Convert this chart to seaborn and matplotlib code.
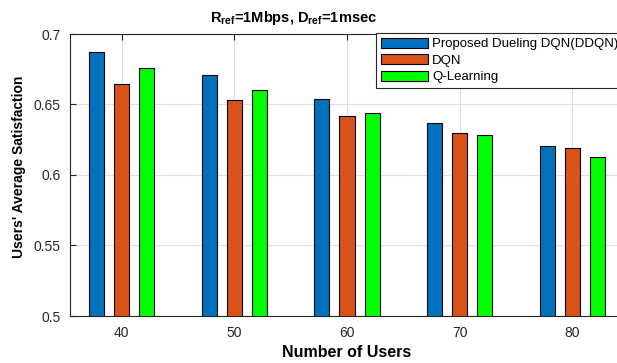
import numpy as np
import pandas as pd
import matplotlib
matplotlib.use("Agg")
import matplotlib.pyplot as plt
import seaborn as sns

# Number of users per scenario
users = ["40", "50", "60", "70", "80"]
methods = ["Proposed Dueling DQN(DDQN)", "DQN", "Q-Learning"]

# Users' average satisfaction for each method
ddqn = [0.6872, 0.6706, 0.6541, 0.6372, 0.6207]
dqn = [0.6647, 0.6531, 0.6418, 0.6301, 0.6188]
qlearning = [0.6759, 0.6602, 0.6443, 0.6287, 0.6129]

colors = ["#0072BD", "#D95319", "#00FF00"]

df = pd.DataFrame({
    "users": users * 3,
    "method": [m for m in methods for _ in users],
    "satisfaction": ddqn + dqn + qlearning,
})

sns.set_theme(style="white")
plt.rcParams["font.family"] = ["Liberation Sans", "DejaVu Sans"]
plt.rcParams["mathtext.fontset"] = "custom"
plt.rcParams["mathtext.rm"] = "Liberation Sans"
plt.rcParams["mathtext.bf"] = "Liberation Sans:bold"
plt.rcParams["mathtext.it"] = "Liberation Sans:italic"

W, H = 617, 363
fig = plt.figure(figsize=(W / 100, H / 100), dpi=100)
left, right, top, bottom = 70, 624, 34, 316
ax = fig.add_axes([left / W, 1 - bottom / H, (right - left) / W, (bottom - top) / H])

sns.barplot(data=df, x="users", y="satisfaction", hue="method",
            hue_order=methods, order=users, palette=colors, saturation=1,
            width=0.667, gap=0.4, edgecolor="black", linewidth=0.8,
            errorbar=None, ax=ax, zorder=3)

ax.set_xlim(-0.46, 4.46)
ax.set_ylim(0.5, 0.7)
ax.set_yticks([0.5, 0.55, 0.6, 0.65, 0.7])
ax.set_yticklabels(["0.5", "0.55", "0.6", "0.65", "0.7"])

ax.grid(True, color="#E0E0E0", linewidth=0.8, zorder=0)
ax.set_axisbelow(True)
for s in ax.spines.values():
    s.set_color("#262626")
    s.set_linewidth(0.8)

ax.tick_params(axis="both", direction="in", length=4, width=0.8,
               labelsize=10, labelcolor="#262626", color="#262626",
               top=True, right=True, left=True, bottom=True, pad=7)

ax.set_xlabel("Number of Users", fontsize=11.5, fontweight="bold",
              color="black", labelpad=4)
ax.set_ylabel("Users' Average Satisfaction", fontsize=10,
              fontweight="bold", color="black")
ax.yaxis.set_label_coords(-0.08, 0.53)

fig.text(294 / W, 1 - 18 / H,
         r"$\mathbf{R_{ref}}$" + "=1Mbps, " + r"$\mathbf{D_{ref}}$" + "=1msec",
         ha="center", va="center", fontsize=10.5, fontweight="bold",
         color="black")

leg = ax.legend(loc="upper left", bbox_to_anchor=(376 / W, 1 - 33 / H),
                bbox_transform=fig.transFigure, borderaxespad=0,
                frameon=True, fancybox=False, fontsize=9.5,
                handlelength=3.6, handleheight=0.8, labelspacing=0.3,
                handletextpad=0.3, borderpad=0.35, title=None)
leg.get_frame().set_edgecolor("#262626")
leg.get_frame().set_linewidth(0.8)
leg.get_frame().set_alpha(1)
for t in leg.get_texts():
    t.set_color("black")

fig.savefig("out.png", dpi=100)
